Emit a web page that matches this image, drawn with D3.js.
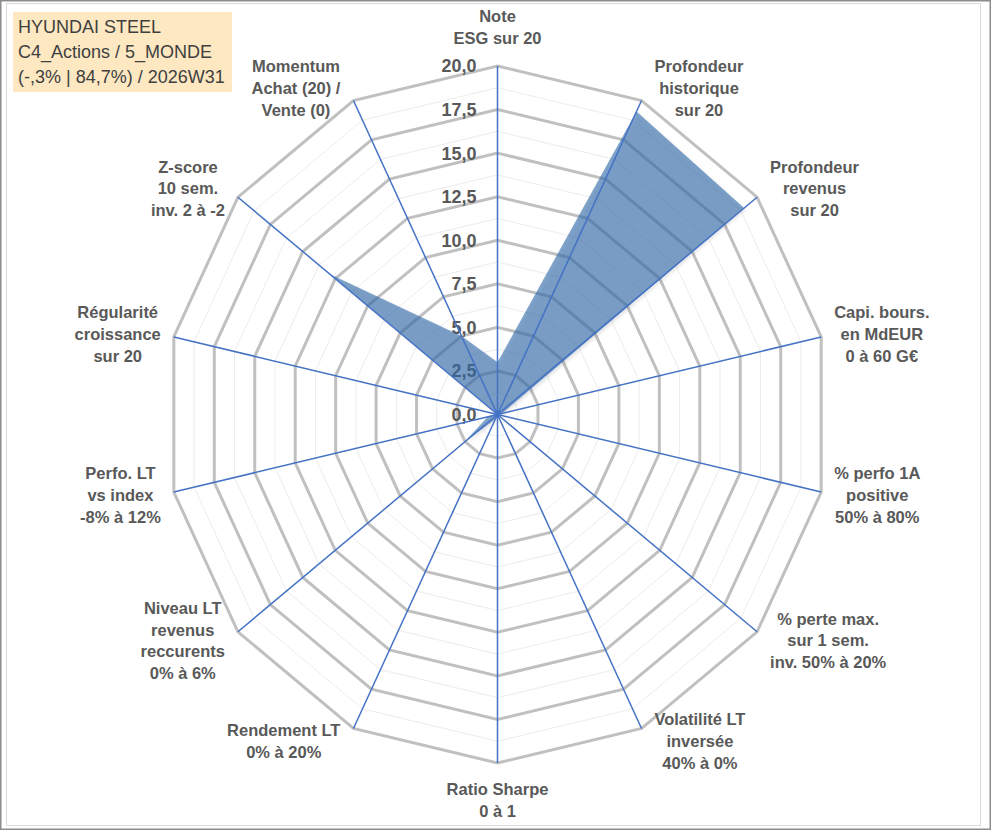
<!DOCTYPE html>
<html>
<head>
<meta charset="utf-8">
<script src="https://cdn.jsdelivr.net/npm/d3@7"></script>
<style>
  body { margin: 0; background: #fff; }
  svg { display: block; font-family: "Liberation Sans", Arial, sans-serif; }
</style>
</head>
<body>
<div id="chart"></div>
<script>
// Axis labels, clockwise from the top (one string per line)
const categories = [
  ['Note', 'ESG sur 20'],
  ['Profondeur', 'historique', 'sur 20'],
  ['Profondeur', 'revenus', 'sur 20'],
  ['Capi. bours.', 'en MdEUR', '0 à 60 G€'],
  ['% perfo 1A', 'positive', '50% à 80%'],
  ['% perte max.', 'sur 1 sem.', 'inv. 50% à 20%'],
  ['Volatilité LT', 'inversée', '40% à 0%'],
  ['Ratio Sharpe', '0 à 1'],
  ['Rendement LT', '0% à 20%'],
  ['Niveau LT', 'revenus', 'reccurents', '0% à 6%'],
  ['Perfo. LT', 'vs index', '-8% à 12%'],
  ['Régularité', 'croissance', 'sur 20'],
  ['Z-score', '10 sem.', 'inv. 2 à -2'],
  ['Momentum', 'Achat (20) /', 'Vente (0)'],
];

// Scores on 20, same order as categories
const values = [3, 19.3, 19, 0.3, 0, 0, 0, 0, 0.3, 2.6, 0.6, 0, 12.9, 5];

const majorTicks = [0, 2.5, 5, 7.5, 10, 12.5, 15, 17.5, 20];
const minorTicks = [1.25, 3.75, 6.25, 8.75, 11.25, 13.75, 16.25, 18.75];

const titleLines = ['HYUNDAI STEEL', 'C4_Actions / 5_MONDE', '(-,3% | 84,7%) / 2026W31'];

const width = 991;
const height = 830;
const center = { x: 497.5, y: 414.5 };
const textColor = '#595959';

const frLocale = d3.formatLocale({ decimal: ',', thousands: ' ', grouping: [3], currency: ['', ' €'] });
const tickFormat = frLocale.format('.1f');

// the plot is a bit wider in y than in x
const rx = d3.scaleLinear().domain([0, 20]).range([0, 332]);
const ry = d3.scaleLinear().domain([0, 20]).range([0, 348.5]);

const n = categories.length;
const angle = d3.scaleLinear().domain([0, n]).range([0, 2 * Math.PI]);

function point(v, i) {
  const a = angle(i);
  return [center.x + rx(v) * Math.sin(a), center.y - ry(v) * Math.cos(a)];
}

const ringLine = d3.line().curve(d3.curveLinearClosed);

const svg = d3.select('#chart')
  .append('svg')
  .attr('width', width)
  .attr('height', height);

// frame
svg.append('rect')
  .attr('x', 0.75).attr('y', 0.75)
  .attr('width', width - 1.5).attr('height', height - 1.5)
  .attr('fill', '#fff')
  .attr('stroke', '#8c8c8c')
  .attr('stroke-width', 1.5);

svg.append('rect')
  .attr('x', 6.5).attr('y', 3.5)
  .attr('width', 974).attr('height', 822)
  .attr('fill', 'none')
  .attr('stroke', '#d9d9d9');

const defs = svg.append('defs');
defs.append('filter')
  .attr('id', 'shadow')
  .attr('x', '-10%').attr('y', '-10%')
  .attr('width', '130%').attr('height', '130%')
  .append('feDropShadow')
  .attr('dx', 2).attr('dy', 2)
  .attr('stdDeviation', 1.5)
  .attr('flood-color', '#000')
  .attr('flood-opacity', 0.15);

// minor gridlines
svg.append('g')
  .attr('class', 'minor-grid')
  .selectAll('path')
  .data(minorTicks)
  .join('path')
  .attr('d', (t) => ringLine(d3.range(n).map((i) => point(t, i))))
  .attr('fill', 'none')
  .attr('stroke', '#ececec')
  .attr('stroke-width', 1);

// major gridlines
svg.append('g')
  .attr('class', 'major-grid')
  .selectAll('path')
  .data(majorTicks.filter((t) => t > 0))
  .join('path')
  .attr('d', (t) => ringLine(d3.range(n).map((i) => point(t, i))))
  .attr('fill', 'none')
  .attr('stroke', '#c0c0c0')
  .attr('stroke-width', 3)
  .attr('stroke-linejoin', 'miter');

// tick labels along the vertical axis
svg.append('g')
  .attr('class', 'ticks')
  .selectAll('text')
  .data(majorTicks)
  .join('text')
  .attr('x', center.x - 21)
  .attr('y', (t) => center.y - ry(t))
  .attr('dy', '0.36em')
  .attr('text-anchor', 'end')
  .attr('font-size', 18)
  .attr('font-weight', 'bold')
  .attr('fill', textColor)
  .text((t) => tickFormat(t));

// series
svg.append('path')
  .datum(values)
  .attr('d', (d) => ringLine(d.map((v, i) => point(v, i))))
  .attr('fill', 'rgb(52,106,170)')
  .attr('fill-opacity', 0.62)
  .attr('filter', 'url(#shadow)');

// spokes
svg.append('g')
  .attr('class', 'spokes')
  .selectAll('line')
  .data(d3.range(n))
  .join('line')
  .attr('x1', center.x)
  .attr('y1', center.y)
  .attr('x2', (i) => point(20, i)[0])
  .attr('y2', (i) => point(20, i)[1])
  .attr('stroke', '#4472c4')
  .attr('stroke-width', 1.5);

// category labels
const lh = 21.8;
const labels = svg.append('g')
  .attr('class', 'labels')
  .attr('font-size', 16.5)
  .attr('font-weight', 'bold')
  .attr('fill', textColor)
  .attr('text-anchor', 'middle');

categories.forEach((lines, i) => {
  const a = angle(i);
  const s = Math.sin(a);
  const c = Math.cos(a);
  const [vx, vy] = point(20, i);
  const txt = labels.append('text');
  const spans = lines.map((l) => txt.append('tspan').text(l));
  const maxW = d3.max(spans, (sp) => sp.node().getComputedTextLength());
  const halfH = lines.length * lh / 2;

  let lx, ly;
  if (Math.abs(s) < 0.01) {
    lx = vx;
    ly = vy + (c > 0 ? -(halfH + 17) : (halfH + 15));
  } else {
    lx = vx + Math.sign(s) * (maxW / 2 + 13);
    ly = vy - c * 14;
  }
  spans.forEach((sp, k) => {
    sp.attr('x', lx)
      .attr('y', ly + (k - (lines.length - 1) / 2) * lh)
      .attr('dy', '0.36em');
  });
});

// title box
const title = svg.append('g').attr('class', 'title');
title.append('rect')
  .attr('x', 13).attr('y', 12)
  .attr('width', 219).attr('height', 80)
  .attr('fill', '#fde8c2');

title.selectAll('text')
  .data(titleLines)
  .join('text')
  .attr('x', 18)
  .attr('y', (d, k) => 33 + k * 25)
  .attr('font-size', 18)
  .attr('fill', '#404040')
  .text((d) => d);
</script>
</body>
</html>
